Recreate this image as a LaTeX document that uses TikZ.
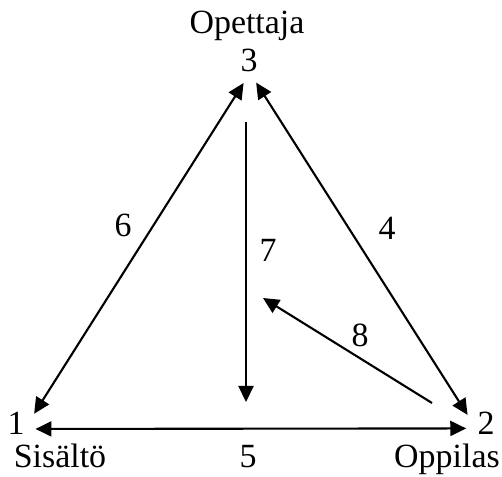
\documentclass[tikz,border=0pt]{standalone}
\usepackage{fontspec}
\setmainfont{Liberation Serif}
\usetikzlibrary{arrows.meta,positioning}
\tikzset{num/.style={circle,inner sep=0pt,minimum size=0.8cm,font=\fontsize{19.3}{23}\selectfont}, lbl/.style={inner sep=0pt,font=\fontsize{19.3}{23}\selectfont}, arr/.style={-{Triangle[length=0.32cm,width=0.3cm]},line width=1.2pt}, darr/.style={{Triangle[length=0.32cm,width=0.3cm]}-{Triangle[length=0.32cm,width=0.3cm]},line width=1.2pt}}

\begin{document}
\begin{tikzpicture}[x=1cm,y=1cm]
\useasboundingbox (0,0) rectangle (10.04,9.52);
\node[num] (n3) at (4.98,8.32) {3};
\node[num] (n1) at (0.32,1.06) {1};
\node[num] (n2) at (9.72,1.05) {2};
\node[lbl,anchor=base] (opettaja) at (4.94,8.84) {Opettaja};
\node[lbl,anchor=base] (sisalto) at (1.20,0.18) {Sisältö};
\node[lbl,anchor=base] (oppilas) at (8.94,0.18) {Oppilas};
\node[lbl] (l5) at (4.96,0.38) {5};
\node[lbl] (l6) at (2.46,5.02) {6};
\node[lbl] (l4) at (7.74,4.96) {4};
\node[lbl] (l7) at (5.36,4.52) {7};
\node[lbl] (l8) at (7.20,2.82) {8};
\coordinate (t7) at (4.92,7.08);
\coordinate (b7) at (4.92,1.48);
\coordinate (s8) at (8.64,1.46);
\coordinate (e8) at (5.26,3.56);
\draw[darr,shorten <=0.07cm] (n3.260) -- (n1.27);
\draw[darr,shorten <=0.07cm] (n3.285) -- (n2.155);
\draw[darr] (n1.343) -- (n2.194);
\draw[arr] (t7) -- (b7);
\draw[arr] (s8) -- (e8);
\end{tikzpicture}
\end{document}
